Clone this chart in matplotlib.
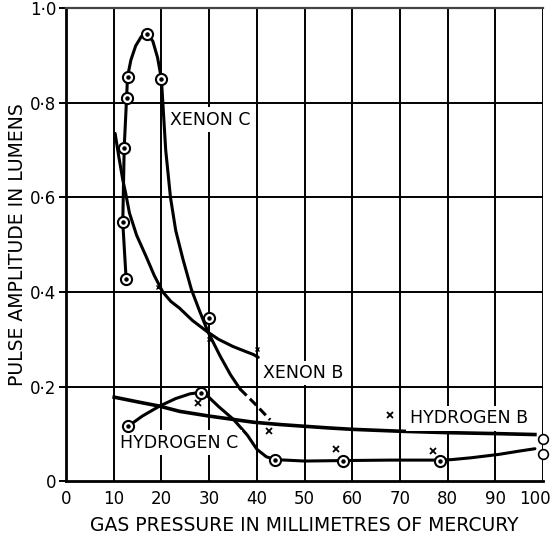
import matplotlib
matplotlib.use("Agg")
import matplotlib.pyplot as plt
import matplotlib.transforms as mtransforms

plt.rcParams['font.family'] = ['DejaVu Sans']

# Pressure axis ticks and amplitude axis ticks
x_ticks = [0, 10, 20, 30, 40, 50, 60, 70, 80, 90, 100]
y_ticks = [0, 0.2, 0.4, 0.6, 0.8, 1.0]
y_tick_labels = ["0", "0·2", "0·4", "0·6", "0·8", "1·0"]

# Xenon C: measured points (circled dots)
xenon_c_pts_x = [12.6, 11.9, 12.2, 12.7, 12.9, 17.0, 20.0, 30.0]
xenon_c_pts_y = [0.428, 0.547, 0.705, 0.81, 0.855, 0.945, 0.85, 0.345]
# Xenon C: drawn curve (solid part, then dashed tail)
xenon_c_curve_x = [12.6, 11.9, 12.2, 12.7, 12.9, 13.6, 14.6, 15.8, 17.0, 18.2,
                   19.2, 20.0, 20.3, 20.9, 21.9, 23.0, 24.5, 26.3, 28.0, 29.8,
                   32.3, 34.5, 36.5]
xenon_c_curve_y = [0.428, 0.547, 0.705, 0.81, 0.855, 0.89, 0.92, 0.94, 0.945, 0.93,
                   0.895, 0.85, 0.80, 0.70, 0.60, 0.53, 0.47, 0.405, 0.36, 0.315,
                   0.265, 0.225, 0.195]
xenon_c_tail_x = [36.5, 39.5, 42.8]
xenon_c_tail_y = [0.195, 0.165, 0.13]

# Xenon B: drawn curve and its small crosses
xenon_b_curve_x = [10.3, 11.0, 11.9, 12.5, 13.3, 14.8, 16.8, 18.5, 20.3, 22.0,
                   23.8, 26.5, 29.5, 32.0, 35.0, 37.5, 39.3, 40.3]
xenon_b_curve_y = [0.735, 0.69, 0.637, 0.609, 0.567, 0.52, 0.475, 0.435, 0.40, 0.38,
                   0.366, 0.34, 0.317, 0.30, 0.285, 0.275, 0.268, 0.262]
xenon_b_pts_x = [19.3, 30.0, 40.0]
xenon_b_pts_y = [0.41, 0.30, 0.28]

# Hydrogen C: measured points and drawn curve
hydrogen_c_pts_x = [13.1, 28.2, 43.9, 58.0, 78.3]
hydrogen_c_pts_y = [0.117, 0.187, 0.046, 0.044, 0.044]
hydrogen_c_curve_x = [13.1, 16.0, 19.6, 23.0, 26.0, 28.2, 29.5, 32.0, 35.1, 38.0,
                      40.0, 42.0, 43.9, 50.0, 58.0, 68.0, 78.3, 80.8, 85.0, 90.7,
                      95.0, 98.3]
hydrogen_c_curve_y = [0.117, 0.138, 0.159, 0.175, 0.185, 0.188, 0.182, 0.158, 0.131, 0.098,
                      0.068, 0.052, 0.046, 0.043, 0.044, 0.045, 0.045, 0.046, 0.050, 0.057,
                      0.064, 0.069]
hydrogen_c_edge_x = [100.0, 100.0]
hydrogen_c_edge_y = [0.089, 0.057]

# Hydrogen B: drawn curve and measured crosses
hydrogen_b_curve_x = [10.1, 15.0, 19.6, 23.8, 30.0, 35.0, 39.3, 45.0, 49.2, 55.0,
                      60.0, 70.0, 80.0, 90.0, 98.3]
hydrogen_b_curve_y = [0.178, 0.168, 0.159, 0.148, 0.138, 0.131, 0.125, 0.12, 0.117, 0.113,
                      0.11, 0.106, 0.103, 0.101, 0.099]
hydrogen_b_pts_x = [27.6, 42.6, 56.6, 67.9, 76.9]
hydrogen_b_pts_y = [0.165, 0.106, 0.068, 0.141, 0.064]

fig = plt.figure(figsize=(5.51, 5.38), dpi=100)
ax = fig.add_axes([0.1198, 0.1052, 0.8657, 0.8799])
ax.set_xlim(0, 100)
ax.set_ylim(0, 1.0)

# grid
for gx in x_ticks[1:]:
    ax.axvline(gx, color='black', lw=1.4, zorder=1)
for gy in y_ticks[1:-1]:
    ax.axhline(gy, color='black', lw=1.4, zorder=1)

for s in ['left', 'bottom']:
    ax.spines[s].set_linewidth(2.0)
ax.spines['right'].set_visible(False)
ax.spines['top'].set_linewidth(1.6)
ax.spines['top'].set_color('#444444')

curve_kw = dict(color='black', lw=2.2, solid_capstyle='round', zorder=3)
ax.plot(xenon_c_curve_x, xenon_c_curve_y, **curve_kw)
ax.plot(xenon_c_tail_x, xenon_c_tail_y, color='black', lw=2.2, ls=(0, (3, 1.5)), zorder=3)
ax.plot(xenon_b_curve_x, xenon_b_curve_y, **curve_kw)
ax.plot(hydrogen_c_curve_x, hydrogen_c_curve_y, **curve_kw)
ax.plot(hydrogen_b_curve_x, hydrogen_b_curve_y, color='black', lw=2.6, zorder=3)


def circled(xs, ys, clip=True):
    ax.plot(xs, ys, ls='none', marker='o', ms=8, mfc='white', mec='black',
            mew=1.5, zorder=5, clip_on=clip)
    ax.plot(xs, ys, ls='none', marker='o', ms=2.2, color='black', zorder=6,
            clip_on=clip)


circled(xenon_c_pts_x, xenon_c_pts_y)
circled(hydrogen_c_pts_x, hydrogen_c_pts_y)
ax.plot(hydrogen_c_edge_x, hydrogen_c_edge_y, ls='none', marker='o', ms=7,
        mfc='white', mec='black', mew=1.2, zorder=5, clip_on=False)

ax.plot(hydrogen_b_pts_x, hydrogen_b_pts_y, ls='none', marker='x', ms=5,
        mec='black', mew=1.3, zorder=6)
ax.plot(xenon_b_pts_x, xenon_b_pts_y, ls='none', marker='x', ms=3.5,
        mec='black', mew=1.0, zorder=6)

label_kw = dict(fontsize=12.5, va='center', ha='left', zorder=4,
                bbox=dict(facecolor='white', edgecolor='none', pad=2.5))
ax.text(21.8, 0.764, "XENON C", **label_kw)
ax.text(41.4, 0.229, "XENON B", **label_kw)
ax.text(11.3, 0.082, "HYDROGEN C", **label_kw)
ax.text(72.1, 0.133, "HYDROGEN B", **label_kw)

ax.set_xticks(x_ticks)
ax.set_xticklabels([str(v) for v in x_ticks])
ax.set_yticks(y_ticks)
ax.set_yticklabels(y_tick_labels)
ax.tick_params(axis='x', length=0, pad=6, labelsize=12)
ax.tick_params(axis='y', length=5, width=1.4, pad=2, labelsize=12)

# pull the last pressure label inside the figure edge
last = ax.get_xticklabels()[-1]
last.set_transform(last.get_transform() +
                   mtransforms.ScaledTranslation(-6 / 72, 0, fig.dpi_scale_trans))

ax.set_xlabel("GAS PRESSURE IN MILLIMETRES OF MERCURY", fontsize=13.5, labelpad=6)
ax.set_ylabel("PULSE AMPLITUDE IN LUMENS", fontsize=13.5, labelpad=2)

fig.savefig("out.png", dpi=100)
